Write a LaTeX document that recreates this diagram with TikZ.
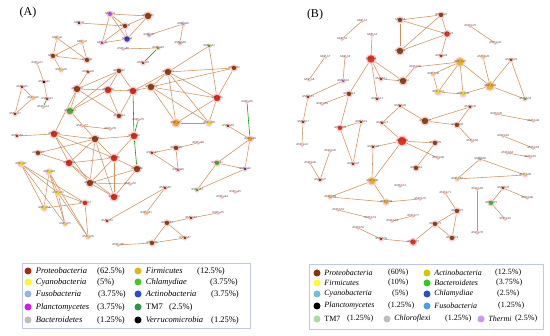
\documentclass[tikz,border=0pt]{standalone}
\usepackage{fontspec}
\setmainfont{Liberation Serif}
\usepackage{xcolor}
\usepackage{tikz}
\usetikzlibrary{positioning}
\pgfdeclarelayer{edges}
\pgfsetlayers{edges,main}
% network (A)
\definecolor{aP}{RGB}{145,65,15}
\definecolor{aR}{RGB}{215,45,20}
\definecolor{aY}{RGB}{235,225,40}
\definecolor{aO}{RGB}{235,160,30}
\definecolor{aG}{RGB}{70,180,40}
\definecolor{aB}{RGB}{40,60,220}
\definecolor{aV}{RGB}{190,90,230}
\definecolor{aM}{RGB}{230,30,230}
\definecolor{aK}{RGB}{20,20,60}
\definecolor{aC}{RGB}{140,180,230}
% network (B)
\definecolor{bP}{RGB}{140,70,20}
\definecolor{bR}{RGB}{230,50,30}
\definecolor{bY}{RGB}{230,230,40}
\definecolor{bO}{RGB}{230,180,40}
\definecolor{bG}{RGB}{60,200,40}
\definecolor{bB}{RGB}{40,70,220}
\definecolor{bV}{RGB}{160,110,220}
\definecolor{bK}{RGB}{20,20,60}
\definecolor{bC}{RGB}{130,180,230}
% legends
\definecolor{lProA}{RGB}{170,40,10}
\definecolor{lCyaA}{RGB}{255,250,30}
\definecolor{lFusA}{RGB}{150,180,230}
\definecolor{lPlaA}{RGB}{220,20,230}
\definecolor{lBacA}{RGB}{190,190,190}
\definecolor{lFirA}{RGB}{230,180,20}
\definecolor{lChlA}{RGB}{70,200,40}
\definecolor{lActA}{RGB}{40,70,230}
\definecolor{lTmA}{RGB}{40,150,70}
\definecolor{lProB}{RGB}{140,50,15}
\definecolor{lFirB}{RGB}{255,250,40}
\definecolor{lCyaB}{RGB}{110,190,220}
\definecolor{lTmB}{RGB}{170,220,160}
\definecolor{lActB}{RGB}{210,200,0}
\definecolor{lBacB}{RGB}{50,200,30}
\definecolor{lChlB}{RGB}{40,80,200}
\definecolor{lFusB}{RGB}{70,160,240}
\definecolor{lCflB}{RGB}{190,190,190}
\definecolor{lTheB}{RGB}{210,150,240}
\definecolor{edgecol}{RGB}{205,145,90}
\definecolor{boxcol}{RGB}{190,200,225}

\begin{document}
\begin{tikzpicture}[x=1pt,y=-1pt,
  vx/.style={circle,inner sep=0pt,draw=red!22,line width=1.2pt},
  lbl/.style={font=\fontsize{3}{3}\selectfont,text=black!80},
  edge/.style={draw=edgecol,line width=0.55pt},
  gedge/.style={draw=green!60!black,line width=0.55pt},
  dot/.style={circle,inner sep=0pt,minimum size=7pt},
  leg/.style={anchor=west,inner sep=0pt,font=\fontsize{8.5}{10}\selectfont},
  legb/.style={anchor=west,inner sep=0pt,font=\fontsize{8}{10}\selectfont}]
  \useasboundingbox (0,0) rectangle (550,336);
  % Panel titles
  \node[font=\fontsize{12}{14}\selectfont] (titA) at (28,13) {(A)};
  \node[font=\fontsize{12}{14}\selectfont] (titB) at (315,15) {(B)};
  % Nodes (A)
  \foreach \n/\x/\y/\c/\s in {
    a1/110/14/aV/6, a2/79/23/aB/4, a3/125/26/aP/6, a4/127/39/aB/7, a5/102/43/aM/4,
    a6/57/38/aY/4, a7/82/42/aY/4, a8/53/56/aP/6, a9/87/60/aP/6, a10/61/70/aY/4,
    a11/37/63/aP/2.5, a12/44/82/aK/4, a13/47/99/aP/4, a14/43/107/aP/2.5,
    a15/22/87/aP/4, a16/33/98/aY/4, a17/15/114/aP/4, a18/88/72/aP/4,
    a19/77/89/aP/8, a20/108/90/aR/8, a21/133/91/aR/8, a22/119/71/aP/6,
    a23/70/111/aG/8, a24/119/116/aP/6, a25/148/16/aP/8, a26/183/24/aC/4,
    a27/149/35/aC/4, a28/180/43/aC/4, a29/158/48/aG/4, a30/143/63/aR/4,
    a31/209/46/aG/4, a32/234/68/aP/6, a33/168/72/aP/8, a34/151/87/aP/8,
    a35/217/98/aR/8, a36/247/102/aG/2.5, a37/176/123/aO/8, a38/209/123/aY/6,
    a39/228/126/aP/4, a40/250/139/aO/6, a41/217/163/aG/6, a42/245/169/aB/4,
    a43/197/190/aG/4, a44/222/197/aP/2.5, a45/235/192/aP/2.5, a46/176/148/aP/6,
    a47/152/153/aP/4, a48/198/143/aP/2.5, a49/178/170/aV/4, a50/165/188/aP/4,
    a51/146/213/aY/4, a52/107/221/aP/4, a53/167/223/aP/6, a54/191/218/aP/4,
    a55/218/213/aP/2.5, a56/152/243/aP/6, a57/185/238/aP/4, a58/118/245/aP/2.5,
    a59/17/136/aP/4, a60/54/134/aR/8, a61/95/139/aP/8, a62/134/136/aR/8,
    a63/38/153/aP/6, a64/69/163/aR/8, a65/114/158/aR/8, a66/137/169/aP/8,
    a67/21/164/aY/6, a68/49/172/aY/6, a69/90/183/aP/8, a70/130/184/aP/2.5,
    a71/58/193/aY/6, a72/114/197/aR/8, a73/85/203/aR/6, a74/44/208/aY/6,
    a75/65/224/aY/4, a76/88/237/aY/4, a77/82/126/aP/2.5, a78/110/129/aG/2.5,
    a79/138/120/aP/2.5, a80/123/49/aP/2.5} {
    \node[vx,fill=\c,minimum size=\s pt,label={[lbl]center:ASV\_\n}] (\n) at (\x,\y) {};
  }
  % Nodes (B)
  \foreach \n/\x/\y/\c/\s in {
    b1/362/21/bP/2.5, b2/342/39/bP/2.5, b3/372/35/bP/2.5, b4/371/59/bR/9,
    b5/400/20/bP/6, b6/400/51/bP/8, b7/325/57/bG/2.5, b8/309/80/bG/2.5,
    b9/345/57/bY/2.5, b10/343/81/bV/4, b11/381/79/bP/4, b12/403/81/bP/8,
    b13/377/99/bP/4, b14/349/94/bP/6, b15/308/97/bP/4, b16/322/104/bP/2.5,
    b17/303/122/bP/4, b18/340/128/bR/6, b19/361/122/bP/4, b20/400/106/bP/4,
    b21/382/123/bP/4, b22/441/15/bP/6, b23/447/34/bR/7, b24/441/56/bP/4,
    b25/470/26/bP/2.5, b26/495/43/bP/2.5, b27/460/62/bO/9, b28/483/57/bY/4,
    b29/511/60/bP/4, b30/433/74/bY/4, b31/438/92/bY/6, b32/463/94/bY/6,
    b33/490/86/bO/9, b34/525/99/bG/4, b35/415/67/bP/2.5, b36/470/107/bP/4,
    b37/425/121/bP/8, b38/457/125/bP/6, b39/496/114/bB/2.5, b40/533/121/bB/2.5,
    b41/302/145/bP/2.5, b42/353/164/bP/4, b43/402/141/bR/10, b44/373/147/bP/4,
    b45/330/151/bY/2.5, b46/310/163/bP/2.5, b47/320/180/bP/4, b48/372/181/bO/8,
    b49/330/197/bO/4, b50/386/202/bO/6, b51/400/186/bP/2.5, b52/338/210/bY/2.5,
    b53/370/218/bY/2.5, b54/392/221/bP/2.5, b55/358/228/bP/2.5, b56/381/239/bP/4,
    b57/413/242/bR/7, b58/472/141/bP/2.5, b59/435/143/bP/6, b60/438/158/bP/2.5,
    b61/416/168/bP/6, b62/503/136/bY/2.5, b63/533/148/bP/2.5, b64/507/153/bP/2.5,
    b65/530/157/bK/2.5, b66/480/159/bC/4, b67/457/179/bY/4, b68/525/175/bY/4,
    b69/477/189/bY/2.5, b70/477/233/bY/2.5, b71/445/193/bP/2.5, b72/457/211/bP/6,
    b73/435/224/bP/6, b74/452/238/bP/6, b76/420/199/bY/2.5,
    b77/413/216/bG/2.5, b78/503/188/bP/4, b79/491/203/bG/6, b80/527/198/bP/2.5,
    b81/505/219/bP/2.5} {
    \node[vx,fill=\c,minimum size=\s pt,label={[lbl]center:ASV\_\n}] (\n) at (\x,\y) {};
  }
  % Connectors
  \begin{pgfonlayer}{edges}
    \foreach \a/\b in {
      a2/a3, a1/a3, a1/a4, a1/a5, a1/a25, a5/a4, a5/a3, a3/a4, a25/a4, a25/a3,
      a6/a8, a6/a9, a7/a8, a7/a9, a8/a9, a8/a10, a11/a12, a12/a13,
      a15/a16, a15/a17, a16/a17,
      a18/a19, a19/a20, a19/a22, a20/a22, a20/a21, a21/a22, a19/a24, a20/a24,
      a23/a22, a23/a20, a21/a24, a23/a19,
      a26/a27, a26/a28, a29/a80,
      a31/a33, a31/a35, a33/a32, a34/a32, a32/a35, a33/a34, a33/a35, a34/a35,
      a33/a37, a33/a38, a34/a37, a34/a38, a35/a37, a35/a38, a21/a33, a21/a34,
      a37/a38, a39/a40, a40/a41, a40/a42, a41/a42, a41/a43, a43/a42,
      a46/a47, a46/a48, a47/a49, a46/a49,
      a50/a51, a50/a52, a53/a54, a54/a55, a53/a56, a53/a57, a56/a57, a56/a58,
      a59/a60, a60/a61, a60/a64, a60/a69, a60/a65, a63/a61, a63/a64, a61/a64,
      a61/a65, a61/a69, a61/a72, a61/a62, a64/a65, a64/a69, a64/a72, a65/a69,
      a65/a72, a65/a66, a65/a62, a69/a72, a69/a66, a72/a66, a70/a69, a60/a19,
      a61/a23,
      a67/a73, a67/a71, a67/a74, a67/a75, a68/a71, a68/a74, a68/a75, a68/a76,
      a71/a73, a71/a75, a74/a73, a73/a76, a71/a76, a77/a78,
      b1/b2, b3/b4, b5/b6, b5/b22, b5/b23, b6/b22, b6/b23, b22/b23, b23/b24,
      b7/b8, b9/b10, b10/b15, b15/b17, b16/b14, b4/b11, b4/b12, b4/b13, b4/b14,
      b14/b18, b12/b11, b12/b35, b20/b21, b20/b37, b25/b26,
      b27/b35, b27/b30, b27/b31, b27/b32, b27/b33, b28/b33, b29/b33, b29/b34,
      b33/b34, b30/b31, b31/b32, b32/b33, b36/b37, b36/b38, b37/b38, b39/b40,
      b41/b17, b18/b19, b18/b42, b19/b42, b21/b43, b43/b44, b44/b48, b43/b48,
      b43/b59, b43/b60, b45/b47, b46/b47, b48/b49, b48/b50, b49/b50, b50/b76,
      b52/b53, b54/b77, b55/b56, b56/b57, b38/b58, b59/b61, b62/b63, b64/b65,
      b66/b67, b66/b68, b67/b68, b69/b70, b78/b79, b78/b80, b79/b81,
      b71/b72, b72/b73, b72/b74, b73/b74, b73/b57} {
      \draw[edge] (\a) -- (\b);
    }
    \foreach \a/\b in {a13/a14, a29/a30, a36/a40, a62/a21, a62/a66, a79/a62} {
      \draw[gedge] (\a) -- (\b);
    }
  \end{pgfonlayer}
  % Legend (A)
  \draw[boxcol,line width=0.8pt] (22,263) rectangle (250,328);
  \foreach \n/\c/\x/\y/\t in {
    pro/lProA/28/271/\textit{Proteobacteria}, cya/lCyaA/28/282/\textit{Cyanobacteria},
    fus/lFusA/28/294/\textit{Fusobacteria}, pla/lPlaA/28/307/\textit{Planctomycetes},
    bac/lBacA/28/320/\textit{Bacteroidetes}, fir/lFirA/138/271/\textit{Firmicutes},
    chl/lChlA/138/282/\textit{Chlamydiae}, act/lActA/138/294/\textit{Actinobacteria},
    tm/lTmA/138/307/TM7, ver/black/138/320/\textit{Verrucomicrobia}} {
    \node[dot,fill=\c] (dA\n) at (\x,\y) {};
    \node[leg,right=4pt of dA\n] (tA\n) {\t};
  }
  \foreach \n/\x/\y/\p in {
    pro/97/271/62.5, cya/97/282/5, fus/98/294/3.75, pla/97/307/3.75,
    bac/97/320/1.25, fir/197/271/12.5, chl/210/282/3.75, act/211/294/3.75,
    tm/169/307/2.5, ver/211/320/1.25} {
    \node[leg] (pA\n) at (\x,\y) {(\p\%)};
  }
  % Legend (B)
  \draw[boxcol,line width=0.8pt] (309,264) rectangle (543,329);
  \foreach \n/\c/\x/\y/\t in {
    pro/lProB/317/273/\textit{Proteobacteria}, fir/lFirB/317/283/\textit{Firmicutes},
    cya/lCyaB/317/294/\textit{Cyanobacteria}, pla/black/317/306/\textit{Planctomycetes},
    tm/lTmB/317/319/TM7, act/lActB/427/273/\textit{Actinobacteria},
    bac/lBacB/427/283/\textit{Bacteroidetes}, chl/lChlB/427/294/\textit{Chlamydiae},
    fus/lFusB/427/306/\textit{Fusobacteria}, cfl/lCflB/387/319/\textit{Chloroflexi},
    the/lTheB/481/319/\textit{Thermi}} {
    \node[dot,fill=\c] (dB\n) at (\x,\y) {};
    \node[legb,right=3.5pt of dB\n] (tB\n) {\t};
  }
  \foreach \n/\x/\y/\p in {
    pro/388/273/60, fir/388/283/10, cya/392/294/5, pla/388/306/1.25,
    tm/347/319/1.25, act/495/273/12.5, bac/496/283/3.75, chl/497/294/2.5,
    fus/498/306/1.25, cfl/445/319/1.25, the/515/319/2.5} {
    \node[legb] (pB\n) at (\x,\y) {(\p\%)};
  }
\end{tikzpicture}
\end{document}
